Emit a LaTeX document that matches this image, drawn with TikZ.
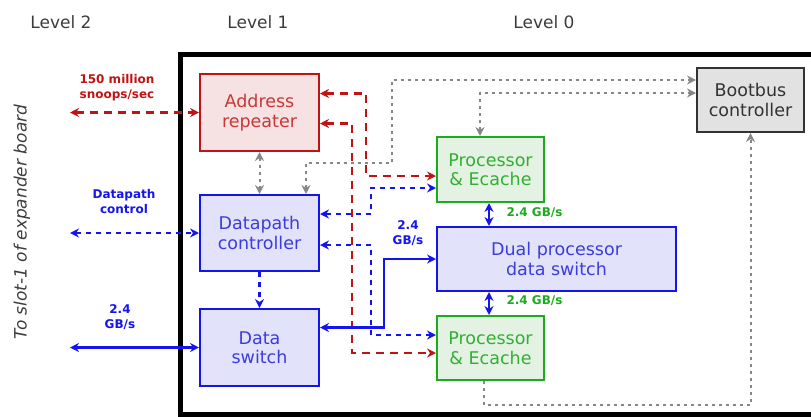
\documentclass[tikz,border=0pt]{standalone}
\usepackage{fontspec}
\setmainfont{DejaVu Sans}
\usetikzlibrary{calc,positioning,arrows.meta}

\definecolor{addrred}{RGB}{192,20,20}
\definecolor{addrfill}{RGB}{246,226,226}
\definecolor{dpblue}{RGB}{20,20,240}
\definecolor{dpfill}{RGB}{226,226,250}
\definecolor{dptext}{RGB}{60,60,220}
\definecolor{cpugreen}{RGB}{30,170,30}
\definecolor{cpufill}{RGB}{228,242,228}
\definecolor{cputext}{RGB}{50,175,50}
\definecolor{bootgrey}{RGB}{135,135,135}
\definecolor{bootfill}{RGB}{226,226,226}
\definecolor{leveltext}{RGB}{60,60,60}

\begin{document}
\begin{tikzpicture}[
    x=1pt,y=-1pt,
    >={Stealth[length=9pt,width=9pt]},
    unitbox/.style={rectangle,draw,line width=2pt,inner sep=0pt,align=center,
      font=\fontsize{17.5}{19.5}\selectfont},
    addrbox/.style={unitbox,draw=addrred,fill=addrfill,text=addrred!85!white},
    dpbox/.style={unitbox,draw=dpblue,fill=dpfill,text=dptext},
    cpubox/.style={unitbox,draw=cpugreen,fill=cpufill,text=cputext},
    bootbox/.style={unitbox,draw=black!80,fill=bootfill,text=black!80},
    leveltitle/.style={text=leveltext,font=\fontsize{17}{19}\selectfont},
    ratelabel/.style={align=center,font=\fontsize{12}{15}\bfseries\selectfont},
    redline/.style={draw=addrred,line width=2.4pt,dash pattern=on 8pt off 6pt},
    blueline/.style={draw=dpblue,line width=2.4pt,dash pattern=on 5pt off 5pt},
    bluewire/.style={draw=dpblue,line width=2.4pt},
    greyline/.style={draw=bootgrey,line width=2pt,dash pattern=on 3pt off 4pt}
    ]
    \useasboundingbox (0,0) rectangle (811,416);

    % board outline
    \draw[line width=5pt] (180,54) rectangle (840,414);

    \node(lvl2) [leveltitle] at (61,22) {Level 2};
    \node(lvl1) [leveltitle] at (258,22) {Level 1};
    \node(lvl0) [leveltitle] at (544,22) {Level 0};
    \node(slot) [rotate=90,text=leveltext,font=\fontsize{17}{19}\itshape\selectfont]
      at (22,222) {To slot-1 of expander board};

    % level 1
    \node(addr) [addrbox,minimum width=119pt,minimum height=77pt] at (259.5,112.5)
      {Address\\repeater};
    \node(dpc) [dpbox,minimum width=119pt,minimum height=76pt] at (259.5,233)
      {Datapath\\controller};
    \node(dsw) [dpbox,minimum width=119pt,minimum height=77pt] at (259.5,347.5)
      {Data\\switch};

    % level 0
    \node(cpu_a) [cpubox,minimum width=107pt,minimum height=65pt] at (490.5,169.5)
      {Processor\\\& Ecache};
    \node(dual) [dpbox,minimum width=239pt,minimum height=64pt] at (556.5,259)
      {Dual processor\\data switch};
    \node(cpu_b) [cpubox,minimum width=107pt,minimum height=64pt] at (490.5,348)
      {Processor\\\& Ecache};
    \node(boot) [bootbox,minimum width=107pt,minimum height=64pt] at (750.5,100)
      {Bootbus\\controller};

    % off-board ends
    \coordinate(snoop_end) at (70,112.5);
    \coordinate(ctrl_end) at (70,233);
    \coordinate(data_end) at (70,347.5);

    \node(snoop_lbl) [ratelabel,text=addrred] at (117,88) {150 million\\snoops/sec};
    \node(ctrl_lbl) [ratelabel,text=dpblue] at (124,202) {Datapath\\control};
    \node(data_lbl) [ratelabel,text=dpblue] at (120,317) {2.4\\GB/s};
    \node(dual_lbl) [ratelabel,text=dpblue] at (408,233) {2.4\\GB/s};
    \node(top_lbl) [ratelabel,text=cpugreen,anchor=west] at (503,213) {2.4 GB/s};
    \node(bot_lbl) [ratelabel,text=cpugreen,anchor=west] at (503,301) {2.4 GB/s};

    % address lines
    \draw[redline,<->] (snoop_end) -- (addr.west);
    \draw[redline,<->] ([yshift=19pt]addr.east) -| ([xshift=-70pt,yshift=-6.5pt]cpu_a.west)
      -- ([yshift=-6.5pt]cpu_a.west);
    \draw[redline,<->] ([yshift=-11pt]addr.east) -| ([xshift=-84pt,yshift=-5pt]cpu_b.west)
      -- ([yshift=-5pt]cpu_b.west);

    % datapath control lines
    \draw[blueline,<->] (ctrl_end) -- (dpc.west);
    \draw[blueline,<->] ([yshift=19pt]dpc.east) -| ([xshift=-65pt,yshift=-18.5pt]cpu_a.west)
      -- ([yshift=-18.5pt]cpu_a.west);
    \draw[blueline,<->] ([yshift=-12pt]dpc.east) -| ([xshift=-65pt,yshift=13pt]cpu_b.west)
      -- ([yshift=13pt]cpu_b.west);
    \draw[blueline,->] (dpc.south) -- (dsw.north);

    % data lines
    \draw[bluewire,<->] (data_end) -- (dsw.west);
    \draw[bluewire,<->] ([yshift=20pt]dsw.east) -| ([xshift=-52pt]dual.west) -- (dual.west);
    \draw[bluewire,<->] ([xshift=-1.5pt]cpu_a.south) -- ([xshift=-1.5pt]cpu_a.south |- dual.north);
    \draw[bluewire,<->] ([xshift=-1.5pt]cpu_b.north) -- ([xshift=-1.5pt]cpu_b.north |- dual.south);

    % bootbus lines
    \draw[greyline,<->] (addr.south) -- (dpc.north);
    \draw[greyline,<->] ([xshift=46.5pt]dpc.north) |- (392,163) |- ([yshift=20pt]boot.west);
    \draw[greyline,<->] ([xshift=-10.5pt]cpu_a.north) |- ([yshift=7pt]boot.west);
    \draw[greyline,->] ([xshift=-7pt]cpu_b.south) -- ++(0,24) -| (boot.south);

  \end{tikzpicture}
\end{document}
